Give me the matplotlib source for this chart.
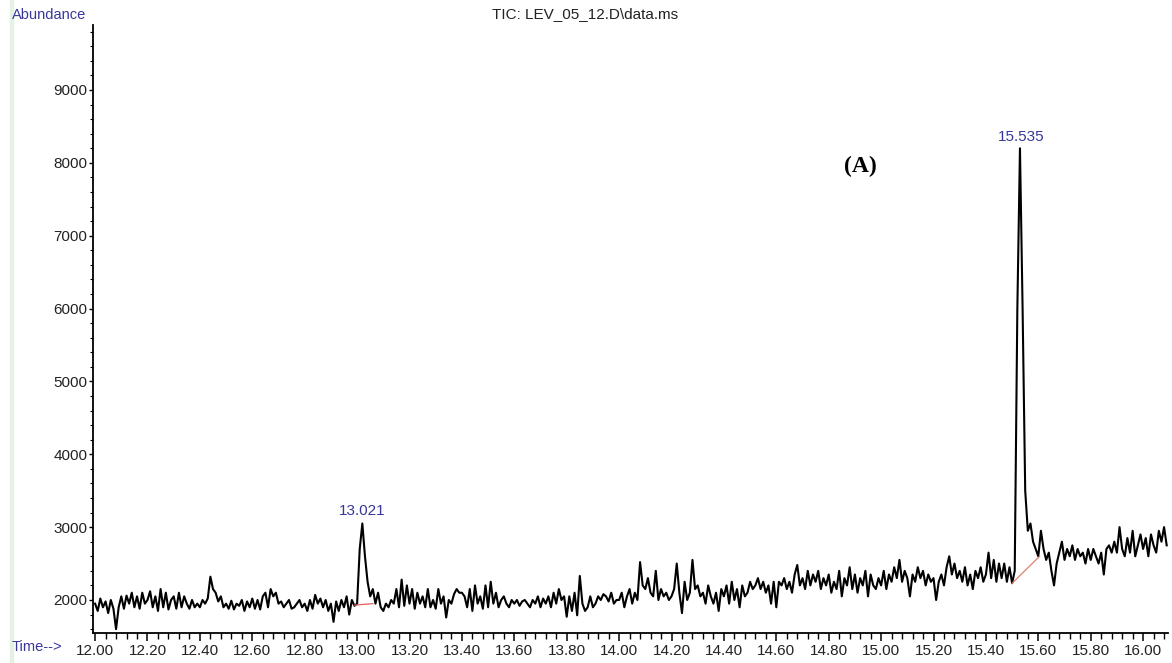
import numpy as np
import matplotlib
matplotlib.use("Agg")
import matplotlib.pyplot as plt
from matplotlib.patches import Rectangle
from matplotlib.ticker import MultipleLocator, FormatStrFormatter

# TIC trace, one value every 0.01 min starting at 12.00 min
scan_start = 12.00
scan_step = 0.01
abundance = [
    # 12.00 - 12.19
    1950, 1850, 2020, 1900, 1980, 1820, 2000, 1880, 1600, 1900,
    2050, 1880, 2060, 1950, 2100, 1900, 2050, 1880, 2100, 1950,
    # 12.20 - 12.39
    2000, 2120, 1900, 2050, 1850, 2150, 1900, 2100, 1870, 2000,
    2050, 1880, 2100, 1900, 2050, 1950, 1880, 2000, 1900, 1950,
    # 12.40 - 12.59
    1900, 2000, 1950, 2020, 2320, 2150, 2100, 1980, 2050, 1900,
    1950, 1880, 1990, 1870, 1950, 1920, 2000, 1850, 1980, 1900,
    # 12.60 - 12.79
    2020, 1880, 2000, 1870, 2050, 2100, 1900, 2150, 2050, 2100,
    1950, 1980, 1900, 1950, 2000, 1880, 1900, 1950, 2000, 1900,
    # 12.80 - 12.99
    1950, 1850, 2000, 1880, 2070, 1950, 2020, 1900, 2000, 1850,
    1950, 1700, 1980, 1850, 2000, 1900, 2050, 1800, 2000, 1920,
    # 13.00 - 13.19
    1950, 2700, 3050, 2600, 2250, 2050, 2150, 1950, 2100, 1900,
    1850, 1950, 1900, 2000, 1950, 2150, 1900, 2280, 1920, 2200,
    # 13.20 - 13.39
    1950, 2150, 1880, 2100, 1950, 2050, 1900, 2150, 1900, 2000,
    1880, 2150, 1950, 2050, 1760, 2000, 1950, 2080, 2150, 2100,
    # 13.40 - 13.59
    2100, 2050, 1900, 2150, 1850, 2200, 1950, 2050, 1880, 2200,
    1900, 2250, 1950, 2100, 1900, 2000, 2050, 1950, 1900, 2000,
    # 13.60 - 13.79
    1950, 2000, 1920, 1980, 2000, 1950, 1900, 2000, 1950, 2050,
    1900, 2020, 1950, 2050, 1900, 2100, 1950, 2150, 2000, 2050,
    # 13.80 - 13.99
    1770, 2050, 1850, 2100, 1790, 2330, 1950, 1850, 1900, 2050,
    1900, 1950, 2050, 2000, 2080, 2050, 1980, 2100, 1950, 2000,
    # 14.00 - 14.19
    2000, 2100, 1900, 2050, 2150, 1950, 2100, 2000, 2520, 2200,
    2150, 2300, 2100, 2050, 2400, 2000, 2150, 2050, 2100, 2000,
    # 14.20 - 14.39
    2050, 2150, 2500, 2100, 1820, 2250, 2000, 2100, 2550, 2150,
    2200, 2050, 2100, 1950, 2200, 2050, 1950, 2100, 1850, 2150,
    # 14.40 - 14.59
    2050, 2200, 1950, 2250, 2000, 2150, 1900, 2200, 2050, 2100,
    2250, 2150, 2200, 2300, 2150, 2250, 2100, 2200, 1950, 2250,
    # 14.60 - 14.79
    1900, 2250, 2200, 2300, 2150, 2250, 2100, 2350, 2480, 2200,
    2300, 2150, 2400, 2200, 2350, 2250, 2400, 2150, 2300, 2200,
    # 14.80 - 14.99
    2350, 2100, 2250, 2150, 2400, 2050, 2300, 2200, 2450, 2150,
    2350, 2100, 2300, 2200, 2400, 2050, 2350, 2200, 2150, 2300,
    # 15.00 - 15.19
    2200, 2400, 2150, 2350, 2250, 2450, 2300, 2550, 2250, 2400,
    2300, 2050, 2350, 2250, 2450, 2300, 2400, 2200, 2350, 2250,
    # 15.20 - 15.39
    2300, 2000, 2250, 2350, 2200, 2450, 2600, 2350, 2500, 2300,
    2400, 2250, 2450, 2200, 2350, 2150, 2400, 2300, 2450, 2250,
    # 15.40 - 15.59
    2350, 2650, 2300, 2550, 2250, 2500, 2300, 2500, 2250, 2450,
    2230, 2400, 6000, 8200, 6000, 3500, 2950, 3050, 2800, 2700,
    # 15.60 - 15.79
    2600, 2950, 2700, 2550, 2650, 2400, 2200, 2500, 2650, 2800,
    2550, 2700, 2600, 2750, 2550, 2700, 2600, 2650, 2500, 2700,
    # 15.80 - 15.99
    2550, 2700, 2600, 2500, 2650, 2350, 2700, 2750, 2650, 2800,
    2650, 3000, 2700, 2600, 2850, 2650, 2950, 2600, 2750, 2900,
    # 16.00 - 16.09
    2700, 2850, 2600, 2900, 2750, 2650, 2950, 2800, 3000, 2750,
]

# integration baselines drawn under the two peaks
base1_t = [12.99, 13.06]
base1_y = [1930, 1950]
base2_t = [15.50, 15.605]
base2_y = [2230, 2600]

# peak labels: (retention time, label position abundance)
peak_times = [13.021, 15.535]
peak_label_y = [3120, 8260]
peak_labels = ["13.021", "15.535"]

times = scan_start + scan_step * np.arange(len(abundance))

W, H = 1172, 663
fig = plt.figure(figsize=(W / 100, H / 100), dpi=100)
ax = fig.add_axes([93 / W, 1 - 633 / H, (1168 - 93) / W, (633 - 25) / H])

ax.plot(times, abundance, color="black", lw=1.5)
ax.plot(base1_t, base1_y, color="#e06060", lw=0.9)
ax.plot(base2_t, base2_y, color="#e08070", lw=0.9)

label_blue = "#38389a"
for t, y, s in zip(peak_times, peak_label_y, peak_labels):
    ax.text(t, y, s, color=label_blue, fontsize=11, ha="center", va="bottom",
            family="Liberation Sans")

ax.text(14.92, 7950, "(A)", fontsize=17, fontweight="bold", family="Liberation Serif",
        ha="center", va="center")

ax.set_xlim(11.992, 16.095)
ax.set_ylim(1547, 9892)

for side in ("top", "right"):
    ax.spines[side].set_visible(False)
ax.spines["left"].set_linewidth(1.3)
ax.spines["bottom"].set_linewidth(1.3)

ax.xaxis.set_major_locator(MultipleLocator(0.2))
ax.xaxis.set_minor_locator(MultipleLocator(0.04))
ax.xaxis.set_major_formatter(FormatStrFormatter("%.2f"))
ax.yaxis.set_major_locator(MultipleLocator(1000))
ax.yaxis.set_minor_locator(MultipleLocator(200))
ax.set_yticks(np.arange(2000, 9001, 1000))

ax.tick_params(axis="x", which="major", length=6, width=1.1, labelsize=11, pad=2)
ax.tick_params(axis="x", which="minor", length=4, width=1.0)
ax.tick_params(axis="y", which="major", length=3, width=1.0, labelsize=11, pad=1)
ax.tick_params(axis="y", which="minor", length=2, width=0.8)
for lab in ax.get_xticklabels() + ax.get_yticklabels():
    lab.set_family("Liberation Sans")
    lab.set_color("#222222")

fig.text(585 / W, 1 - 14 / H, "TIC: LEV_05_12.D\\data.ms", ha="center", va="center",
         fontsize=11, family="Liberation Sans", color="#222222")
fig.text(12 / W, 1 - 15 / H, "Abundance", ha="left", va="center",
         fontsize=10.5, family="Liberation Sans", color=label_blue)
fig.text(12 / W, 1 - 647 / H, "Time-->", ha="left", va="center",
         fontsize=10.5, family="Liberation Sans", color=label_blue)

# pale green strip at the left edge of the original screenshot
fig.patches.append(Rectangle((10 / W, 0), 3 / W, 1, transform=fig.transFigure,
                             color="#e4f2e4", zorder=0))

fig.savefig("out.png", dpi=100)
